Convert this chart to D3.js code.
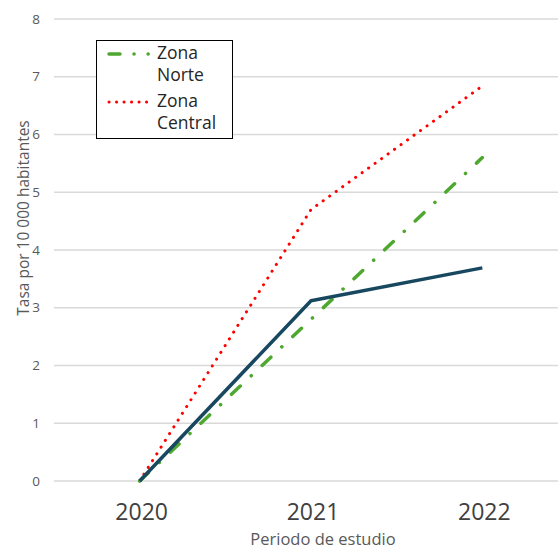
<!DOCTYPE html>
<html>
<head>
<meta charset="utf-8">
<script src="https://cdn.jsdelivr.net/npm/d3@7"></script>
<style>
  body { margin: 0; background: #fff; }
  svg { display: block; font-family: "Open Sans", Lato, sans-serif; }
</style>
</head>
<body>
<div id="chart"></div>
<script>
//----------------------------
// Data
//----------------------------
var years = ["2020", "2021", "2022"];
var yTicks = [0, 1, 2, 3, 4, 5, 6, 7, 8];
var tasaGeneral = [0, 3.12, 3.69];
var zonaNorte = [0, 2.8, 5.6];
var zonaCentral = [0, 4.7, 6.84];
var legendNames = ["Zona Norte", "Zona Central"];

var w = 558, h = 549;
var margin = { top: 19, right: -10, bottom: 68, left: 54 };

var svg = d3.select("#chart")
    .append("svg")
    .attr("width", w)
    .attr("height", h);

//----------------------------
// Scales
//----------------------------
var x = d3.scaleBand()
    .domain(years)
    .range([margin.left, w - margin.right]);

var y = d3.scaleLinear()
    .domain([0, 8])
    .range([h - margin.bottom, margin.top]);

var cx = function (d) { return x(d) + x.bandwidth() / 2; };

//----------------------------
// Grid + axes
//----------------------------
svg.append("g")
    .selectAll("line")
    .data(yTicks)
    .enter()
    .append("line")
    .attr("x1", margin.left)
    .attr("x2", w)
    .attr("y1", d => y(d))
    .attr("y2", d => y(d))
    .attr("stroke", "#d9d9d9")
    .attr("stroke-width", 1.5);

svg.append("g")
    .selectAll("text")
    .data(yTicks)
    .enter()
    .append("text")
    .attr("x", 40)
    .attr("y", d => y(d))
    .attr("dy", "0.35em")
    .attr("text-anchor", "end")
    .attr("font-size", 13.5)
    .attr("fill", "#595959")
    .text(d => d);

svg.append("g")
    .selectAll("text")
    .data(years)
    .enter()
    .append("text")
    .attr("x", d => cx(d) + 2)
    .attr("y", 520)
    .attr("text-anchor", "middle")
    .attr("font-size", 23)
    .attr("fill", "#404040")
    .text(d => d);

svg.append("text")
    .attr("x", 323)
    .attr("y", 545)
    .attr("text-anchor", "middle")
    .attr("font-size", 16.5)
    .attr("fill", "#595959")
    .text("Periodo de estudio");

svg.append("text")
    .attr("transform", "translate(29,218) rotate(-90)")
    .attr("text-anchor", "middle")
    .attr("font-size", 15.5)
    .attr("fill", "#595959")
    .text("Tasa por 10 000 habitantes");

//----------------------------
// Lines
//----------------------------
var line = d3.line()
    .x((d, i) => cx(years[i]))
    .y(d => y(d));

svg.append("path")
    .attr("d", line(zonaCentral))
    .attr("fill", "none")
    .attr("stroke", "#ff0000")
    .attr("stroke-width", 3)
    .attr("stroke-linecap", "round")
    .attr("stroke-dasharray", "0.1 7.9");

svg.append("path")
    .attr("d", line(zonaNorte))
    .attr("fill", "none")
    .attr("stroke", "#4ea72e")
    .attr("stroke-width", 3.5)
    .attr("stroke-linecap", "round")
    .attr("stroke-dasharray", "12 15 0.1 15");

svg.append("path")
    .attr("d", line(tasaGeneral))
    .attr("fill", "none")
    .attr("stroke", "#17485f")
    .attr("stroke-width", 3.5)
    .attr("stroke-linejoin", "round");

//----------------------------
// Legend
//----------------------------
var lg = svg.append("g");
lg.append("rect")
    .attr("x", 96.5)
    .attr("y", 40.5)
    .attr("width", 136)
    .attr("height", 98)
    .attr("fill", "#fff")
    .attr("stroke", "#000")
    .attr("stroke-width", 1);

var legendStyles = [
    { color: "#4ea72e", dash: "11 14 0.1 14 0.1 30", width: 3.5, ly: 54 },
    { color: "#ff0000", dash: "0.1 7.4", width: 3, ly: 102 }
];

legendNames.forEach(function (name, i) {
    var s = legendStyles[i];
    lg.append("line")
        .attr("x1", 109)
        .attr("x2", 153)
        .attr("y1", s.ly)
        .attr("y2", s.ly)
        .attr("stroke", s.color)
        .attr("stroke-width", s.width)
        .attr("stroke-linecap", "round")
        .attr("stroke-dasharray", s.dash);
    var parts = name.split(" ");
    var t = lg.append("text")
        .attr("font-size", 17.5)
        .attr("fill", "#262626");
    parts.forEach(function (p, j) {
        t.append("tspan")
            .attr("x", 157)
            .attr("y", s.ly + 5 + j * 22)
            .text(p);
    });
});
</script>
</body>
</html>
